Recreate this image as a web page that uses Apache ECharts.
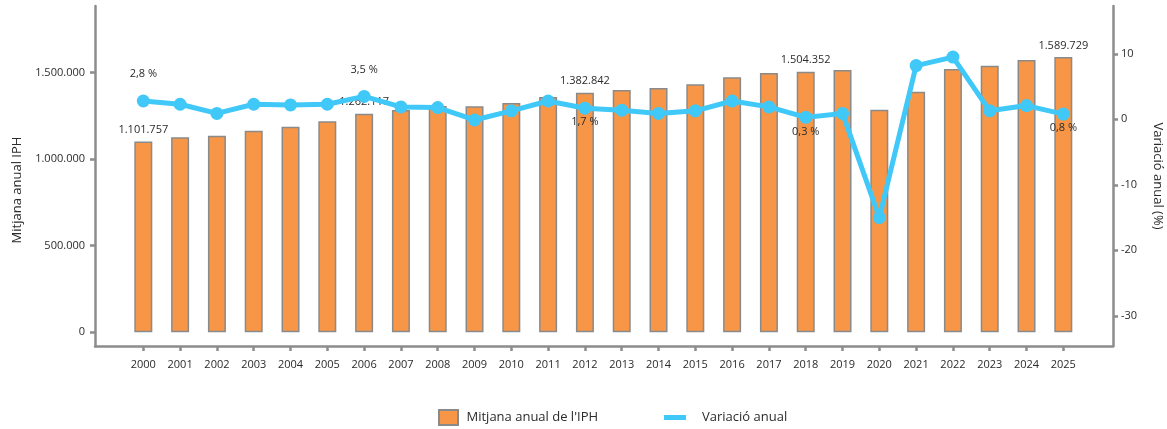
<!DOCTYPE html>
<html>
<head>
<meta charset="utf-8">
<script src="https://cdn.jsdelivr.net/npm/echarts@6/dist/echarts.min.js"></script>
<style>
html,body{margin:0;padding:0;background:#fff;}
#chart{width:1167px;height:429px;}
</style>
</head>
<body>
<div id="chart"></div>
<script>
const years = [2000,2001,2002,2003,2004,2005,2006,2007,2008,2009,2010,2011,2012,2013,2014,2015,2016,2017,2018,2019,2020,2021,2022,2023,2024,2025];
const iphMean = [1101757,1126000,1135000,1164000,1187000,1218000,1262117,1283000,1307000,1305000,1324000,1359000,1382842,1399000,1410000,1432000,1472000,1497000,1504352,1514000,1285000,1389000,1520000,1539000,1572000,1589729];
const annualChange = [2.8,2.3,0.9,2.3,2.2,2.3,3.5,1.9,1.8,-0.1,1.3,2.8,1.7,1.4,0.9,1.3,2.8,1.9,0.3,0.9,-15.0,8.2,9.5,1.3,2.1,0.8];
const labeledYears = [2000,2006,2012,2018,2025];
const leftTicks = [0,500000,1000000,1500000];
const rightTicks = [-30,-20,-10,0,10];
const barName = "Mitjana anual de l'IPH";
const lineName = "Variació anual";

const FONT = '"Open Sans", "Noto Sans", sans-serif';
const AXIS = '#8c8c8c';
const TXT = '#2b2b2b';
function thousands(n){ return String(Math.round(n)).replace(/\B(?=(\d{3})+(?!\d))/g, '.'); }
function pct(v){ return v.toFixed(1).replace('.', ',') + ' %'; }
const aboveLine = {2000:true, 2006:true};

const barData = years.map((y,i)=>({
  value:[y, iphMean[i]],
  label:{show: labeledYears.includes(y)}
}));
const lineData = years.map((y,i)=>({
  value:[y, annualChange[i]],
  label:{
    show: labeledYears.includes(y),
    position: aboveLine[y] ? 'top' : 'bottom',
    distance: aboveLine[y] ? 15 : 2
  }
}));

const chart = echarts.init(document.getElementById('chart'), null, {renderer:'canvas'});
chart.setOption({
  animation:false,
  backgroundColor:'#fff',
  textStyle:{fontFamily:FONT},
  grid:{left:95, right:54, top:6, bottom:83, containLabel:false, outerBoundsMode:'none'},
  legend:{
    left:433, top:404,
    itemWidth:22, itemHeight:15, itemGap:66,
    textStyle:{fontFamily:FONT, fontSize:13, color:TXT, padding:[0,0,0,2]},
    data:[
      {name:barName, icon:'path://M0,0H19V15H0Z'},
      {name:lineName, icon:'path://M0,0H22V5H0Z', textStyle:{padding:[0,0,0,11]}}
    ]
  },
  xAxis:{
    type:'value', min:1998.687, max:2026.35,
    splitLine:{show:false},
    axisLine:{show:true, onZero:false, lineStyle:{color:AXIS, width:2.5}},
    axisTick:{show:true, customValues:years, length:5, lineStyle:{color:AXIS, width:2.5}},
    axisLabel:{customValues:years, margin:13, fontSize:11, color:TXT, fontFamily:FONT, formatter:v=>String(v)}
  },
  yAxis:[
    {
      type:'value', min:-79000, max:1884000, position:'left',
      name:'Mitjana anual IPH', nameLocation:'middle', nameGap:70,
      nameTextStyle:{fontSize:13, color:TXT, fontFamily:FONT, padding:[0,28,0,0]},
      splitLine:{show:false},
      axisLine:{show:true, onZero:false, lineStyle:{color:AXIS, width:2.5}},
      axisTick:{show:true, customValues:leftTicks, length:5, lineStyle:{color:AXIS, width:2.5}},
      axisLabel:{customValues:leftTicks, margin:10, fontSize:11, color:TXT, fontFamily:FONT, formatter:v=>thousands(v)}
    },
    {
      type:'value', min:-34.6, max:17.3, position:'right',
      name:'Variació anual (%)', nameLocation:'middle', nameGap:38, nameRotate:-90,
      nameTextStyle:{fontSize:13, color:TXT, fontFamily:FONT},
      splitLine:{show:false},
      axisLine:{show:true, onZero:false, lineStyle:{color:AXIS, width:2.5}},
      axisTick:{show:true, customValues:rightTicks, length:5, lineStyle:{color:AXIS, width:2.5}},
      axisLabel:{customValues:rightTicks, margin:8, fontSize:11, color:TXT, fontFamily:FONT, formatter:v=>String(v)}
    }
  ],
  series:[
    {
      name:barName, type:'bar', xAxisIndex:0, yAxisIndex:0,
      barWidth:18,
      itemStyle:{color:'#F79646', borderColor:'#8a8a8a', borderWidth:1.5},
      label:{position:'top', distance:6, fontSize:11, color:TXT, fontFamily:FONT,
        formatter:p=>thousands(p.value[1])},
      data:barData, z:2
    },
    {
      name:lineName, type:'line', xAxisIndex:0, yAxisIndex:1,
      symbol:'circle', symbolSize:13,
      lineStyle:{color:'#40C8F8', width:5},
      itemStyle:{color:'#40C8F8'},
      label:{fontSize:11, color:TXT, fontFamily:FONT, formatter:p=>pct(p.value[1])},
      data:lineData, z:3
    }
  ]
});
</script>
</body>
</html>
